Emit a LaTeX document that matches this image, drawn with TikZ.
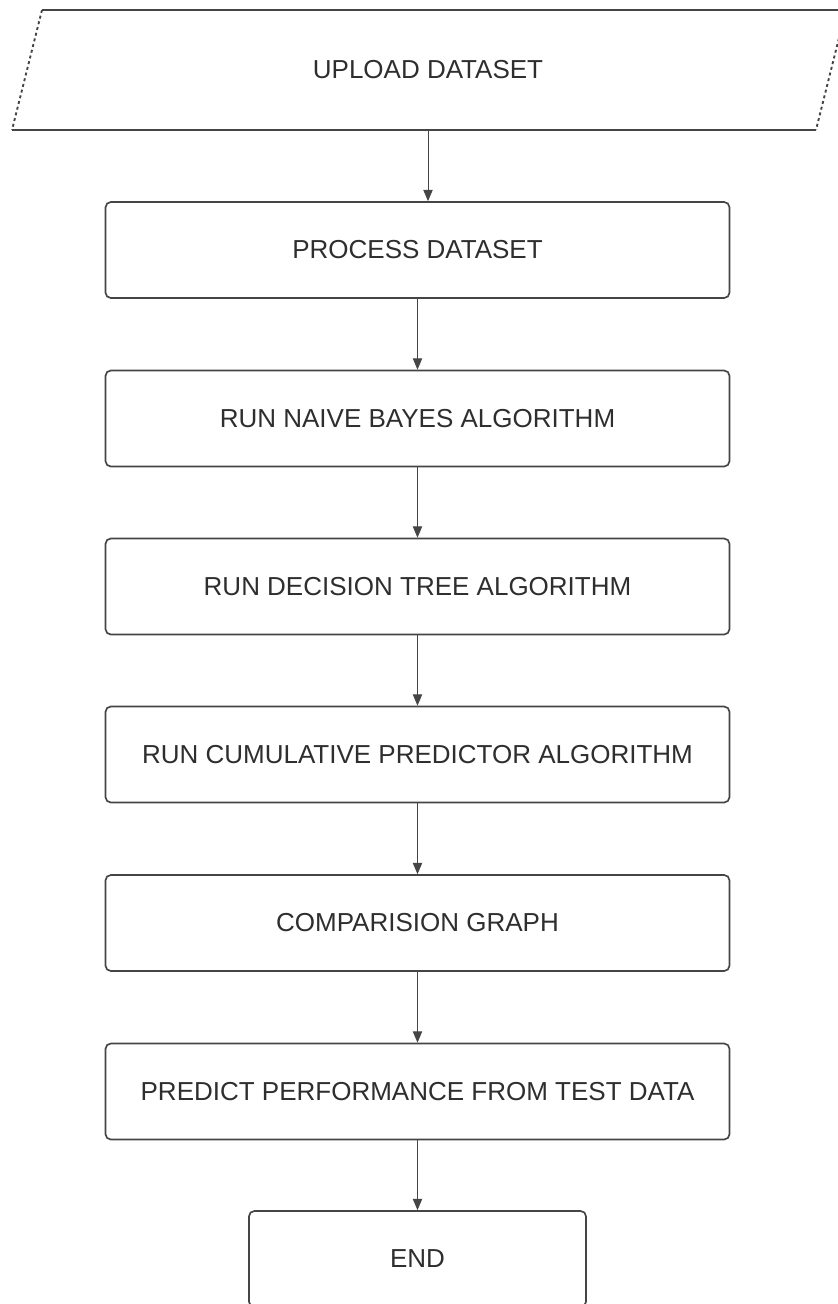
\documentclass[tikz,border=0pt]{standalone}
\usepackage{fontspec}
\setmainfont{Liberation Sans}
\usetikzlibrary{arrows.meta}
\definecolor{edge}{HTML}{454545}
\definecolor{ink}{HTML}{2E2E2E}
\tikzset{
  stepbox/.style={draw=edge, line width=1.25pt, rounded corners=4pt, fill=white,
    minimum width=468pt, minimum height=72pt, inner sep=0pt,
    text=ink, font=\fontsize{19.5}{22}\selectfont},
  flow/.style={draw=edge, line width=0.75pt, -{Triangle[width=7pt,length=8.5pt]}},
  slantside/.style={draw=edge, line width=1.4pt, dash pattern=on 2.2pt off 2.2pt},
  flatside/.style={draw=edge, line width=1.25pt}
}
\begin{document}
\begin{tikzpicture}[x=0.75pt, y=-0.75pt]
\useasboundingbox (0,0) rectangle (838,1304);
\clip (0,0) rectangle (838,1304);

% input parallelogram: solid top and bottom, dashed slanted sides
\coordinate (tl) at (42,10);
\coordinate (tr) at (846,10);
\coordinate (br) at (816,130);
\coordinate (bl) at (12,130);
\draw[flatside] (tl) -- (tr);
\draw[flatside] (bl) -- (br);
\draw[slantside] (tl) -- (bl);
\draw[slantside] (tr) -- (br);
\node[inner sep=0pt, minimum width=600pt, minimum height=90pt,
      text=ink, font=\fontsize{19.5}{22}\selectfont] (upload) at (428,70) {UPLOAD DATASET};

% processing steps
\node[stepbox] (proc)  at (417.5,250)  {PROCESS DATASET};
\node[stepbox] (nb)    at (417.5,418.5) {RUN NAIVE BAYES ALGORITHM};
\node[stepbox] (dt)    at (417.5,586.5) {RUN DECISION TREE ALGORITHM};
\node[stepbox] (cp)    at (417.5,754.5) {RUN CUMULATIVE PREDICTOR ALGORITHM};
\node[stepbox] (graph) at (417.5,923)  {COMPARISION GRAPH};
\node[stepbox] (pred)  at (417.5,1091.5) {PREDICT PERFORMANCE FROM TEST DATA};
\node[stepbox, minimum width=252.75pt] (finish) at (417.5,1259) {END};

% connectors
\draw[flow] (upload.south) -- (upload.south |- proc.north);
\draw[flow] (proc) -- (nb);
\draw[flow] (nb) -- (dt);
\draw[flow] (dt) -- (cp);
\draw[flow] (cp) -- (graph);
\draw[flow] (graph) -- (pred);
\draw[flow] (pred) -- (finish);
\end{tikzpicture}
\end{document}
